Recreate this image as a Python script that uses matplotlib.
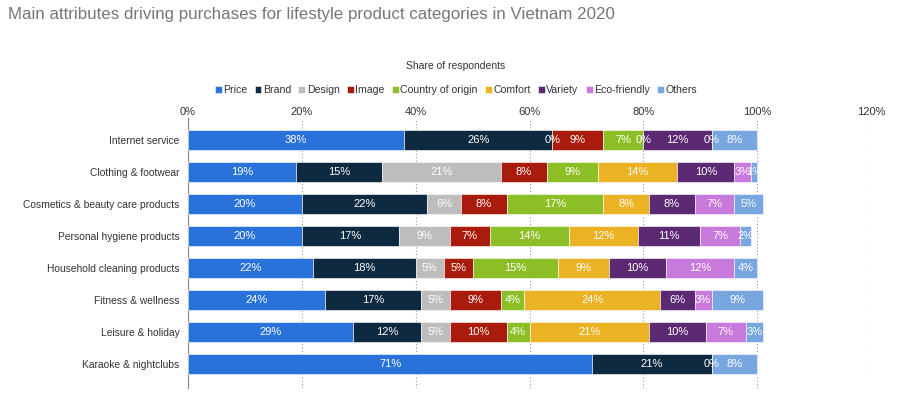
import numpy as np
import matplotlib
matplotlib.use("Agg")
import matplotlib.pyplot as plt
from matplotlib.ticker import FuncFormatter

plt.rcParams["font.family"] = ["Liberation Sans", "DejaVu Sans"]

# Data (share of respondents, %)
categories = ["Internet service", "Clothing & footwear", "Cosmetics & beauty care products",
              "Personal hygiene products", "Household cleaning products", "Fitness & wellness",
              "Leisure & holiday", "Karaoke & nightclubs"]
attributes = ["Price", "Brand", "Design", "Image", "Country of origin", "Comfort",
              "Variety", "Eco-friendly", "Others"]
price = [38, 19, 20, 20, 22, 24, 29, 71]
brand = [26, 15, 22, 17, 18, 17, 12, 21]
design = [0, 21, 6, 9, 5, 5, 5, 0]
image = [9, 8, 8, 7, 5, 9, 10, 0]
origin = [7, 9, 17, 14, 15, 4, 4, 0]
comfort = [0, 14, 8, 12, 9, 24, 21, 0]
variety = [12, 10, 8, 11, 10, 6, 10, 0]
eco = [0, 3, 7, 7, 12, 3, 7, 0]
others = [8, 1, 5, 2, 4, 9, 3, 8]
colors = ["#2872d9", "#0e2a40", "#bdbdbd", "#a91b0d", "#8cbf26", "#ebb324",
          "#5c2a72", "#c879dc", "#78a6e0"]

series = [price, brand, design, image, origin, comfort, variety, eco, others]

fig = plt.figure(figsize=(9.08, 4.0), dpi=100)
ax = fig.add_axes([188 / 908, 1 - 388 / 400, (871 - 188) / 908, (388 - 118) / 400])

y = np.arange(len(categories))
left = np.zeros(len(categories))
for k, (name, vals, col) in enumerate(zip(attributes, series, colors)):
    vals = np.array(vals, dtype=float)
    ax.barh(y, vals, left=left, height=0.6, color=col, label=name,
            edgecolor="white", linewidth=0.4, zorder=3)
    for i, v in enumerate(vals):
        # skip repeated zero labels sitting at the same spot
        if v == 0 and k > 0 and series[k - 1][i] == 0:
            continue
        ax.text(left[i] + v / 2, y[i], f"{int(v)}%", ha="center", va="center",
                color="white", fontsize=8, zorder=4)
    left += vals

ax.set_xlim(0, 120)
ax.set_ylim(7.75, -0.6875)
ax.set_yticks(y)
ax.set_yticklabels(categories, fontsize=7.4, color="#333333")
ax.set_xticks(np.arange(0, 121, 20))
ax.xaxis.set_major_formatter(FuncFormatter(lambda v, p: f"{int(v)}%"))
ax.xaxis.tick_top()
ax.tick_params(axis="x", length=0, labelsize=8, labelcolor="#333333", pad=1)
ax.tick_params(axis="y", length=0, pad=6)
ax.grid(axis="x", linestyle=(0, (1, 2)), color="#999999", linewidth=0.8, zorder=0)
for s in ["top", "right", "bottom"]:
    ax.spines[s].set_visible(False)
ax.spines["left"].set_color("#888888")

fig.text(8 / 908, 1 - 14 / 400, "Main attributes driving purchases for lifestyle product categories in Vietnam 2020",
         fontsize=12.2, color="#777777", ha="left", va="center")
fig.text(456 / 908, 1 - 66 / 400, "Share of respondents", fontsize=7.5, color="#333333",
         ha="center", va="center")
fig.legend(loc="center", bbox_to_anchor=(456 / 908, 1 - 90 / 400), ncol=9, frameon=False,
           fontsize=7.6, handlelength=0.65, handleheight=0.65, handletextpad=0.15,
           columnspacing=0.68, labelcolor="#333333")

fig.savefig("out.png", dpi=100)
